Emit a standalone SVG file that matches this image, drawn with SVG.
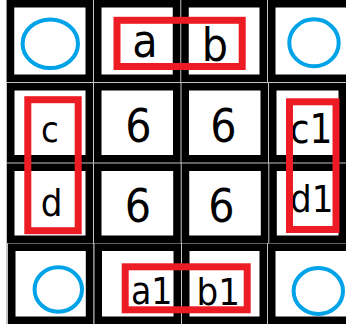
<svg xmlns="http://www.w3.org/2000/svg" width="346" height="324" viewBox="0 0 346 324">
<style>
.tile{fill:#fff;stroke:#000;stroke-width:7.5}
.ring{fill:none;stroke:#00a2e8;stroke-width:4}
.box{fill:none;stroke:#ed1c24;stroke-width:7}
text{font-family:"DejaVu Sans Condensed","DejaVu Sans",sans-serif;font-stretch:condensed;fill:#000;text-anchor:middle}
</style>
<rect x="0" y="0" width="346" height="324" fill="#fff"/>
<rect x="6" y="0" width="340" height="324" fill="#c3c3c3"/>
<g id="tiles">
<rect class="tile" x="10.5" y="3.75" width="78.75" height="74.5"/>
<rect class="tile" x="97.75" y="3.75" width="78.75" height="74.5"/>
<rect class="tile" x="185" y="3.75" width="78.25" height="74.5"/>
<rect class="tile" x="271.75" y="3.75" width="85" height="74.5"/>
<rect class="tile" x="10.75" y="86.75" width="78.5" height="72"/>
<rect class="tile" x="97.75" y="86.75" width="79" height="72"/>
<rect class="tile" x="185.25" y="86.75" width="79" height="72"/>
<rect class="tile" x="272.75" y="86.75" width="69.5" height="72"/>
<rect class="tile" x="10.75" y="167.25" width="78.5" height="72"/>
<rect class="tile" x="97.75" y="167.25" width="79.2" height="72"/>
<rect class="tile" x="185.45" y="167.25" width="79.1" height="72"/>
<rect class="tile" x="273.05" y="167.25" width="69.2" height="72"/>
<rect class="tile" x="11.75" y="247.25" width="77.8" height="73"/>
<rect class="tile" x="98.25" y="247.25" width="79" height="73"/>
<rect class="tile" x="185.75" y="247.25" width="77.5" height="73"/>
<rect class="tile" x="271.75" y="247.25" width="85" height="73"/>
</g>
<g id="n-r1c1"><ellipse class="ring" cx="50.3" cy="43.7" rx="27.7" ry="24.3"/></g>
<g id="n-r1c4"><ellipse class="ring" cx="314" cy="42.8" rx="24.7" ry="23.5"/></g>
<g id="n-r4c1"><ellipse class="ring" cx="58.3" cy="289.5" rx="23.7" ry="22.2"/></g>
<g id="n-r4c4"><ellipse class="ring" cx="318.3" cy="291" rx="24.7" ry="23"/></g>
<g id="n-a"><text x="145" y="57" font-size="46">a</text></g>
<g id="n-b"><text x="215" y="61" font-size="46">b</text></g>
<g id="n-6a"><text x="138.5" y="142" font-size="46">6</text></g>
<g id="n-6b"><text x="223.5" y="142" font-size="46">6</text></g>
<g id="n-6c"><text x="138" y="222" font-size="46">6</text></g>
<g id="n-6d"><text x="221.5" y="222" font-size="46">6</text></g>
<g id="n-c"><text x="50" y="142" font-size="36">c</text></g>
<g id="n-d"><text x="51.5" y="216" font-size="38">d</text></g>
<g id="n-c1"><text x="311" y="142.7" font-size="40">c1</text></g>
<g id="n-d1"><text x="311.8" y="211.5" font-size="38">d1</text></g>
<g id="n-a1"><text x="151.7" y="304" font-size="37">a1</text></g>
<g id="n-b1"><text x="218.3" y="305" font-size="38">b1</text></g>
<g id="connectors">
<rect class="box" x="117" y="20.3" width="125.2" height="46.2"/>
<rect class="box" x="27.8" y="99.7" width="50.4" height="131"/>
<rect class="box" x="289.5" y="101.8" width="46.5" height="127.7"/>
<rect class="box" x="125.2" y="266.8" width="122" height="43"/>
</g>
</svg>
